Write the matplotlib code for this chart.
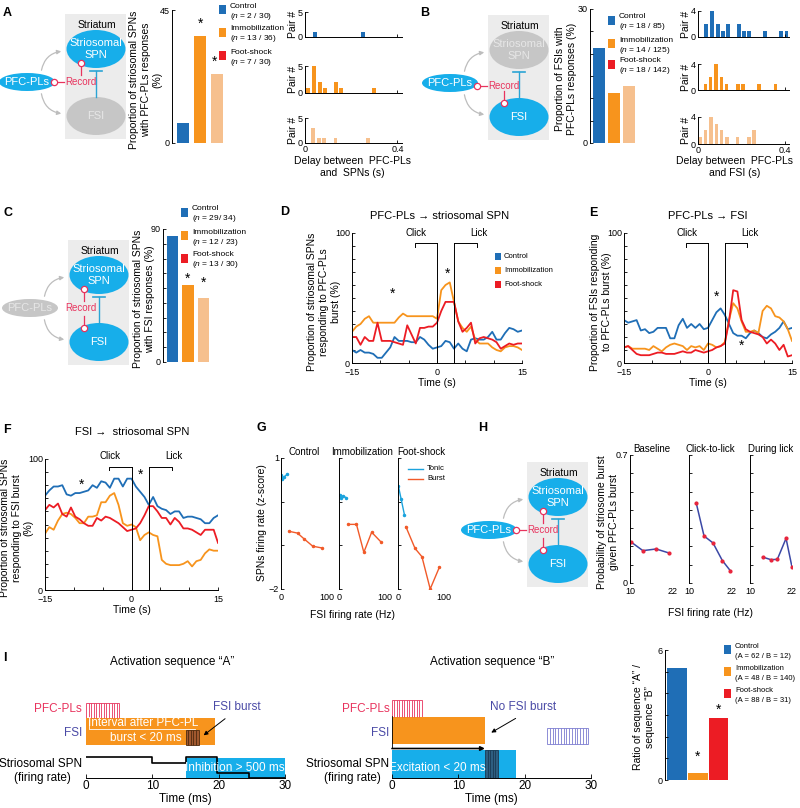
#!/usr/bin/env python3
"""Striosome / FSI / PFC-PL stress figure, panels A-I, redrawn with matplotlib."""
import numpy as np
import matplotlib
matplotlib.use("Agg")
import matplotlib.pyplot as plt
from matplotlib.patches import Ellipse, Rectangle, FancyArrowPatch

plt.rcParams['font.family'] = ['Liberation Sans', 'DejaVu Sans']
plt.rcParams['mathtext.fontset'] = 'custom'
plt.rcParams['mathtext.rm'] = 'Liberation Sans'
plt.rcParams['mathtext.it'] = 'Liberation Sans:italic'
plt.rcParams['axes.linewidth'] = 0.7
plt.rcParams['axes.facecolor'] = 'none'

# ───────────── colours ─────────────
BLUE, ORANGE, RED, PEACH = '#1F6EB6', '#F7941D', '#EC1C24', '#F6C08E'
CYAN, GREYC, BOX, PINK, VIOLET = '#17AEEA', '#C6C6C6', '#ECECEC', '#E8335D', '#4A4AA6'
TLINE = '#2BA4D4'
TONIC, BURST, HLINE, HDOT = '#1BA3DD', '#F15A29', '#3B48A6', '#E8243C'

# ───────────── data ─────────────
groups = ['Control', 'Immobilization', 'Foot-shock']
a_resp, a_total = [2, 13, 7], [30, 36, 30]
b_resp, b_total = [18, 14, 18], [85, 125, 142]
c_resp, c_total = [29, 12, 13], [34, 23, 30]
i_seq_a, i_seq_b = [62, 48, 88], [12, 140, 31]

# delay histograms (bin centre in s, pair count)
a_ctl_t, a_ctl_n = [0.045, 0.25], [1, 1]
a_imm_t = [0.013, 0.038, 0.063, 0.086, 0.133, 0.156, 0.299]
a_imm_n = [1, 5, 2, 1, 2, 1, 1]
a_fs_t, a_fs_n = [0.036, 0.060, 0.081, 0.132, 0.272], [3, 1, 1, 1, 1]
b_ctl_t = [0.038, 0.065, 0.091, 0.114, 0.138, 0.188, 0.212, 0.235, 0.309, 0.383, 0.408]
b_ctl_n = [2, 4, 2, 1, 2, 2, 1, 1, 1, 1, 1]
b_imm_t = [0.034, 0.058, 0.083, 0.108, 0.132, 0.185, 0.209, 0.283, 0.357]
b_imm_n = [1, 2, 4, 2, 1, 1, 1, 1, 1]
b_fs_t = [0.011, 0.035, 0.060, 0.085, 0.109, 0.134, 0.183, 0.234, 0.258]
b_fs_n = [1, 2, 4, 3, 2, 1, 1, 1, 2]

# peri-event curves, 0.75 s bins from -15 to 15 s
time_s = np.arange(-15, 15.01, 0.75)
d_ctl = [10, 8, 10, 8, 8, 7, 4, 4, 8, 12, 20, 17, 17, 17, 16, 16, 20, 18, 14, 11,
         12, 13, 17, 16, 11, 15, 11, 9, 18, 19, 18, 18, 20, 24, 18, 18, 23, 27, 26, 24, 25]
d_imm = [24, 28, 30, 34, 36, 31, 31, 31, 31, 31, 31, 35, 38, 36, 36, 36, 36, 36, 36, 36,
         34, 56, 60, 62, 47, 32, 27, 24, 28, 18, 15, 15, 15, 12, 10, 9, 12, 13, 13, 12, 10]
d_fs = [20, 20, 14, 20, 17, 17, 31, 17, 17, 17, 16, 15, 14, 29, 22, 15, 27, 27, 28, 28,
        31, 40, 47, 47, 47, 32, 24, 27, 31, 15, 19, 20, 19, 18, 16, 11, 13, 15, 14, 15, 15]
e_ctl = [33, 31, 32, 33, 25, 26, 23, 24, 27, 27, 27, 19, 19, 29, 34, 27, 30, 27, 30, 26,
         27, 33, 39, 42, 37, 30, 23, 21, 21, 19, 23, 25, 23, 20, 19, 22, 24, 27, 32, 26, 27]
e_imm = [12, 13, 11, 11, 11, 11, 10, 13, 11, 9, 12, 14, 15, 14, 13, 10, 13, 12, 13, 10,
         15, 14, 12, 13, 16, 33, 46, 42, 32, 24, 24, 25, 23, 40, 44, 42, 36, 35, 32, 26, 17]
e_fs = [12, 13, 10, 7, 6, 6, 6, 7, 8, 8, 7, 7, 7, 8, 9, 8, 8, 10, 9, 8,
        9, 10, 12, 13, 15, 32, 56, 55, 33, 26, 24, 23, 22, 20, 15, 18, 15, 10, 14, 5, 6]
f_ctl = [72, 76, 79, 79, 80, 73, 72, 74, 74, 75, 76, 80, 78, 83, 82, 78, 85, 85, 79, 85,
         85, 79, 75, 71, 65, 71, 64, 62, 61, 58, 60, 60, 55, 56, 56, 55, 54, 51, 51, 55, 57]
f_imm = [43, 48, 46, 53, 58, 59, 58, 55, 51, 51, 56, 56, 57, 67, 67, 72, 74, 65, 51, 49,
         50, 48, 38, 42, 44, 42, 41, 23, 20, 19, 19, 19, 20, 22, 18, 22, 23, 28, 31, 30, 30]
f_fs = [61, 65, 63, 66, 58, 56, 63, 56, 54, 51, 49, 49, 55, 53, 56, 55, 53, 51, 48, 45,
        46, 47, 51, 57, 64, 64, 60, 55, 55, 50, 55, 52, 47, 47, 46, 44, 42, 46, 46, 46, 36]

# G: SPN z-score vs FSI rate
g_tonic_x = [[1, 3, 7, 14], [1.5, 3.6, 8.8, 16], [1, 7, 14]]
g_tonic_y = [[0.61, 0.53, 0.57, 0.63], [0.15, 0.09, 0.13, 0.09], [0.35, 0.05, -0.30]]
g_burst_x = [[18, 36, 51, 69, 89], [20, 38, 54, 71, 91], [17, 37, 52, 70, 90]]
g_burst_y = [[-0.68, -0.72, -0.86, -1.02, -1.06], [-0.52, -0.52, -1.16, -0.70, -0.92],
             [-0.57, -1.07, -1.26, -2.0, -1.5]]

# H: P(striosome burst | PFC-PL burst) vs FSI rate
h_titles = ['Baseline', 'Click-to-lick', 'During lick']
h_x = [[10.3, 13.6, 17.3, 20.9], [12.0, 14.2, 16.7, 19.3, 21.5], [13.6, 15.9, 17.8, 20.3, 22.0]]
h_y = [[0.224, 0.177, 0.186, 0.164], [0.439, 0.257, 0.219, 0.123, 0.068],
       [0.142, 0.128, 0.129, 0.244, 0.087]]

# ───────────── figure / helpers ─────────────
fig = plt.figure(figsize=(8, 8.08), dpi=100)


def pax(x0, y0, x1, y1):
    """axes from pixel box (top-left origin)"""
    return fig.add_axes([x0 / 800, 1 - y1 / 808, (x1 - x0) / 800, (y1 - y0) / 808])


ov = pax(0, 0, 800, 808)
ov.set_xlim(0, 800); ov.set_ylim(808, 0); ov.axis('off')


def T(x, y, s, **kw):
    kw.setdefault('ha', 'center'); kw.setdefault('va', 'center')
    kw.setdefault('fontsize', 7.5)
    return ov.text(x, y, s, **kw)


def style(ax, left=True, bottom=False, size=6.5):
    for s in ('top', 'right'):
        ax.spines[s].set_visible(False)
    ax.spines['left'].set_visible(left)
    ax.spines['bottom'].set_visible(bottom)
    ax.tick_params(direction='in', length=2.5, width=0.6, labelsize=size, pad=1.5)


def ends(ticks, fmt=lambda v: f'{v:g}'.replace('-', '\u2212')):
    return [fmt(t) if i in (0, len(ticks) - 1) else '' for i, t in enumerate(ticks)]


def legend_block(xs, ys, labels, counts, size=6, dy=10):
    for y, c, lab, cnt in zip(ys, [BLUE, ORANGE, RED], labels, counts):
        ov.add_patch(Rectangle((xs, y - 4), 7, 9, fc=c, ec='none'))
        T(xs + 11, y - 3, lab, ha='left', fontsize=size)
        T(xs + 11, y - 3 + dy, cnt, ha='left', fontsize=size)


def circuit(x0, y0, spn_on, fsi_on, pfc_on, rec):
    ov.add_patch(Rectangle((x0, y0), 61, 125, fc=BOX, ec='none'))
    T(x0 + 32, y0 + 11, 'Striatum', fontsize=7.5)
    for cy, on, txt in [(y0 + 35, spn_on, 'Striosomal\nSPN'), (y0 + 102, fsi_on, 'FSI')]:
        ov.add_patch(Ellipse((x0 + 31, cy), 59, 38, fc=CYAN if on else GREYC, ec='none'))
        T(x0 + 31, cy, txt, color='white' if on else '#E6E6E6', fontsize=8, linespacing=1.15)
    ov.add_patch(Ellipse((x0 - 38, y0 + 68), 56, 18, fc=CYAN if pfc_on else GREYC, ec='none'))
    T(x0 - 38, y0 + 68, 'PFC-PLs', color='white' if pfc_on else '#E6E6E6', fontsize=8)
    for a, b, r in [((x0 - 24, y0 + 59), (x0 - 1, y0 + 37), -0.4),
                    ((x0 - 24, y0 + 77), (x0 - 1, y0 + 100), 0.4)]:
        ov.add_patch(FancyArrowPatch(a, b, connectionstyle=f'arc3,rad={r}', arrowstyle='-|>',
                                     mutation_scale=6, color='#BDBDBD', lw=0.9))
    ov.plot([x0 + 31, x0 + 31], [y0 + 57, y0 + 83], color=TLINE, lw=1)
    ov.plot([x0 + 25, x0 + 37], [y0 + 57, y0 + 57], color=TLINE, lw=1.2)
    dot = dict(marker='o', ms=4.5, mfc='white', mec=PINK, mew=0.9, ls='none', zorder=5)
    if rec in ('spn', 'fsi', 'all'):
        py = y0 + (71 if rec == 'fsi' else 68)
        ov.plot([x0 - 10, x0 - 1], [py, py], color=PINK, lw=0.9)
        ov.plot([x0 - 11], [py], **dot)
        T(x0, py, 'Record', ha='left', color=PINK, fontsize=7)
    else:
        T(x0 + 13, y0 + 68, 'Record', color=PINK, fontsize=7)
    if rec in ('spn', 'pair', 'all'):
        ov.plot([x0 + 16, x0 + 16], [y0 + 50, y0 + 61], color=PINK, lw=0.9)
        ov.plot([x0 + 16], [y0 + 49], **dot)
    if rec in ('fsi', 'pair', 'all'):
        ov.plot([x0 + 16, x0 + 16], [y0 + 76, y0 + 87], color=PINK, lw=0.9)
        ov.plot([x0 + 16], [y0 + 88], **dot)


def bar_panel(box, vals, colors, ymax, step, xlim, width, stars):
    ax = pax(*box)
    ax.bar([1, 2, 3], vals, width=width, color=colors)
    ax.set_xlim(*xlim); ax.set_ylim(0, ymax)
    ticks = np.arange(0, ymax + 0.01, step)
    ax.set_yticks(ticks); ax.set_yticklabels(ends(ticks)); ax.set_xticks([])
    style(ax)
    for x, y in stars:
        ax.text(x, y, '*', ha='center', va='center', fontsize=10)
    return ax


def hist_panel(box, t, n, color, ymax, last):
    ax = pax(*box)
    ax.bar(t, n, width=0.017, color=color)
    ax.set_xlim(0, 0.42); ax.set_ylim(0, ymax)
    ax.set_yticks([0, ymax]); ax.set_xticks([0, 0.4])
    ax.set_xticklabels(['0', '0.4'] if last else ['', ''])
    style(ax, bottom=True)
    ax.set_ylabel('Pair #', fontsize=7.5, labelpad=0)


def time_panel(box, series, stars, by):
    ax = pax(*box)
    for vals, c in zip(series, [BLUE, ORANGE, RED]):
        ax.plot(time_s, vals, color=c, lw=1.3)
    ax.set_xlim(-15, 15); ax.set_ylim(0, 100)
    xt = np.arange(-15, 16, 5); yt = np.arange(0, 101, 10)
    ax.set_xticks(xt); ax.set_xticklabels(['\u221215', '', '', '0', '', '', '15'])
    ax.set_yticks(yt); ax.set_yticklabels(ends(yt))
    style(ax, bottom=True)
    ax.tick_params(axis='x', pad=3.5)
    k = dict(color='k', lw=0.7, clip_on=False)
    ax.plot([0, 0], [0, by], **k); ax.plot([3, 3], [0, by], **k)
    ax.plot([-3.9, -3.9, 0], [by - 2.5, by, by], **k)
    ax.plot([3, 7, 7], [by, by, by - 2.5], **k)
    ax.text(-3.7, by + 8, 'Click', ha='center', va='center', fontsize=7)
    ax.text(7.4, by + 8, 'Lick', ha='center', va='center', fontsize=7)
    for x, y in stars:
        ax.text(x, y, '*', ha='center', va='center', fontsize=10)
    ax.set_xlabel('Time (s)', fontsize=7.5, labelpad=1)
    return ax


# ───────────── A ─────────────
T(7, 13, 'A', fontsize=9, fontweight='bold')
circuit(65, 14, True, False, True, 'spn')
bar_panel((172, 10, 230, 143), [100 * r / t for r, t in zip(a_resp, a_total)],
          [BLUE, ORANGE, PEACH], 45, 45, (0.35, 3.76), 0.72, [(2, 40.5), (2.85, 27.5)])
T(146, 80, 'Proportion of striosomal SPNs\nwith PFC-PLs responses\n(%)', rotation=90)
legend_block(219, [9, 32, 55], groups,
             [f'($\\it{{n}}$ = {r} / {t})' for r, t in zip(a_resp, a_total)])
hist_panel((305, 12, 402, 37), a_ctl_t, a_ctl_n, BLUE, 5, False)
hist_panel((305, 66, 402, 93), a_imm_t, a_imm_n, ORANGE, 5, False)
hist_panel((305, 118, 402, 143), a_fs_t, a_fs_n, PEACH, 5, True)
T(352, 167, 'Delay between  PFC-PLs\nand  SPNs (s)')

# ───────────── B ─────────────
T(425, 13, 'B', fontsize=9, fontweight='bold')
circuit(488, 15, False, True, True, 'fsi')
bar_panel((590, 9, 640, 143), [100 * r / t for r, t in zip(b_resp, b_total)],
          [BLUE, ORANGE, PEACH], 30, 5, (0.4, 3.73), 0.8, [])
T(566, 79, 'Proportion of FSIs with\nPFC-PLs responses (%)', rotation=90)
legend_block(608, [20, 43, 64], groups,
             [f'($\\it{{n}}$ = {r} / {t})' for r, t in zip(b_resp, b_total)])
hist_panel((698, 11, 789, 37), b_ctl_t, b_ctl_n, BLUE, 4, False)
hist_panel((698, 64, 789, 90), b_imm_t, b_imm_n, ORANGE, 4, False)
hist_panel((698, 117, 789, 144), b_fs_t, b_fs_n, PEACH, 4, True)
T(735, 167, 'Delay between  PFC-PLs\nand FSI (s)')

# ───────────── C ─────────────
T(8, 213, 'C', fontsize=9, fontweight='bold')
circuit(68, 240, True, True, False, 'pair')
bar_panel((163, 229, 215, 362), [100 * r / t for r, t in zip(c_resp, c_total)],
          [BLUE, ORANGE, PEACH], 90, 10, (0.39, 3.74), 0.71, [(2, 56), (3, 53.5)])
T(144, 299, 'Proportion of striosomal SPNs\nwith FSI responses (%)', rotation=90)
legend_block(181, [212, 235, 258], groups, ['($\\it{n}$ = 29/ 34)', '($\\it{n}$ = 12 / 23)',
                                            '($\\it{n}$ = 13 / 30)'])

# ───────────── D / E / F ─────────────
T(285, 212, 'D', fontsize=9, fontweight='bold')
T(440, 216, 'PFC-PLs \u2192 striosomal SPN', fontsize=8)
time_panel((352, 233, 522, 363), [d_ctl, d_imm, d_fs], [(-7.8, 53), (1.9, 69)], 92)
T(324, 302, 'Proportion of striosomal SPNs\nresponding to PFC-PLs\nburst (%)', rotation=90)
for y, c, lab in zip([256, 270, 284], [BLUE, ORANGE, RED], groups):
    ov.add_patch(Rectangle((495, y - 3.5), 6, 7, fc=c, ec='none'))
    T(504, y, lab, ha='left', fontsize=5.5)

T(593, 213, 'E', fontsize=9, fontweight='bold')
T(708, 216, 'PFC-PLs \u2192 FSI', fontsize=8)
time_panel((624, 233, 792, 363), [e_ctl, e_imm, e_fs], [(1.6, 51), (5.9, 13)], 92)
T(601, 302, 'Proportion of FSIs responding\nto PFC-PLs burst (%)', rotation=90)

T(7, 430, 'F', fontsize=9, fontweight='bold')
T(132, 432, 'FSI \u2192  striosomal SPN', fontsize=8)
time_panel((45, 459, 218, 590), [f_ctl, f_imm, f_fs], [(-8.6, 80), (1.6, 88)], 94)
T(17, 528, 'Proportion of striosomal SPNs\nresponding to FSI burst\n(%)', rotation=90)

# ───────────── G ─────────────
T(261, 428, 'G', fontsize=9, fontweight='bold')
for i, x0 in enumerate([281, 339, 398]):
    ax = pax(x0, 458, x0 + 46, 589)
    ax.plot(g_tonic_x[i], g_tonic_y[i], color=TONIC, lw=1, marker='.', ms=3)
    ax.plot(g_burst_x[i], g_burst_y[i], color=BURST, lw=1, marker='.', ms=3)
    ax.set_xlim(0, 100); ax.set_ylim(-2, 1)
    ax.set_xticks([0, 100]); ax.set_yticks([-2, -1, 0, 1])
    ax.set_yticklabels(['\u22122', '', '', '1'] if i == 0 else [])
    style(ax)
    ax.tick_params(axis='x', length=0, pad=3)
    ax.set_title(groups[i], fontsize=7, pad=2)
ov.plot([408, 423], [469, 469], color=TONIC, lw=1)
ov.plot([408, 423], [479, 479], color=BURST, lw=1)
T(427, 469, 'Tonic', ha='left', fontsize=5.5)
T(427, 479, 'Burst', ha='left', fontsize=5.5)
T(262, 523, 'SPNs firing rate (z-score)', rotation=90)
T(353, 615, 'FSI firing rate (Hz)')

# ───────────── H ─────────────
T(483, 428, 'H', fontsize=9, fontweight='bold')
circuit(527, 462, True, True, True, 'all')
for i, (x0, x1) in enumerate([(630, 673), (689, 732), (750, 792)]):
    ax = pax(x0, 455, x1, 583)
    ax.plot(h_x[i], h_y[i], color=HLINE, lw=1.1, marker='.', ms=4, mfc=HDOT, mec=HDOT)
    ax.set_xlim(10, 22); ax.set_ylim(0, 0.7)
    yt = np.arange(0, 0.71, 0.1)
    ax.set_yticks(yt); ax.set_yticklabels(['0', '', '', '', '', '', '', '0.7'] if i == 0 else [])
    ax.set_xticks([10, 22])
    style(ax, size=6.5)
    ax.tick_params(axis='x', length=0, pad=3)
    ax.set_title(h_titles[i], fontsize=7, pad=2)
T(608, 522, 'Probability of striosome burst\ngiven PFC-PLs burst', rotation=90)
T(710, 613, 'FSI firing rate (Hz)')

# ───────────── I ─────────────
T(5, 658, 'I', fontsize=9, fontweight='bold')
T(172, 662, 'Activation sequence \u201cA\u201d', fontsize=8.5)
T(492, 662, 'Activation sequence \u201cB\u201d', fontsize=8.5)


def stripes(ax, x0, x1, y0, y1, n, color):
    ax.vlines(np.linspace(x0, x1, n + 2)[1:-1], y0, y1, color=color, lw=0.6)


def seq_axes(box):
    ax = pax(*box)
    ax.set_xlim(0, 30); ax.set_ylim(778, 695)
    ax.set_xticks([0, 10, 20, 30]); ax.set_yticks([])
    style(ax, left=False, bottom=True, size=8.5)
    ax.tick_params(axis='x', length=3)
    ax.set_xlabel('Time (ms)', fontsize=8.5, labelpad=1)
    return ax


def side_labels(ax, xr, xc):
    ax.text(xr, 709, 'PFC-PLs', ha='right', va='center', color=PINK, fontsize=8.5)
    ax.text(xr, 733, 'FSI', ha='right', va='center', color=VIOLET, fontsize=8.5)
    ax.text(xr, 764, 'Striosomal SPN', ha='right', va='center', fontsize=8.5)
    ax.text(xc, 778, '(firing rate)', ha='center', va='center', fontsize=8.5)


sa = seq_axes((86, 695, 285, 778))
sa.add_patch(Rectangle((0, 703), 5, 15, fc='white', ec=PINK, lw=0.6))
stripes(sa, 0, 5, 703, 718, 12, PINK)
sa.add_patch(Rectangle((0, 718), 19.5, 27, fc=ORANGE, ec='none'))
sa.plot([0.4, 0.4, 16.5], [720, 729, 729], color='white', lw=0.6)
sa.text(8.6, 723.5, 'Interval after PFC-PL', color='white', ha='center', va='center', fontsize=8.5)
sa.text(9.0, 738, 'burst < 20 ms', color='white', ha='center', va='center', fontsize=8.5)
sa.add_patch(Rectangle((15, 730), 2, 15, fc='#A0582E', ec='#4D2A10', lw=0.6))
stripes(sa, 15, 17, 730, 745, 4, '#4D2A10')
sa.add_patch(Rectangle((15, 758), 15, 20, fc=CYAN, ec='none'))
sa.plot([0, 10, 10, 15, 15, 19.7, 19.7, 24.5, 24.5, 30],
        [757, 757, 763, 763, 757, 757, 773, 773, 778, 778], color='k', lw=1.2)
sa.text(22.5, 768, 'Inhibition > 500 ms', color='white', ha='center', va='center', fontsize=8.5)
sa.text(22.8, 707, 'FSI burst', color=VIOLET, ha='center', va='center', fontsize=8.5)
sa.annotate('', xy=(17.4, 737), xytext=(21.3, 717),
            arrowprops=dict(arrowstyle='-|>', color='k', lw=0.7, mutation_scale=6))
side_labels(sa, -0.6, -6.5)

sb = seq_axes((392, 695, 591, 778))
sb.add_patch(Rectangle((0, 700), 4.5, 17, fc='white', ec=PINK, lw=0.6))
stripes(sb, 0, 4.5, 700, 717, 11, PINK)
sb.add_patch(Rectangle((0, 717), 14, 27, fc=ORANGE, ec='none'))
sb.add_patch(Rectangle((0, 750), 18.7, 28, fc=CYAN, ec='none'))
sb.add_patch(Rectangle((14, 750), 2, 28, fc='#2E5E80', ec='#1C3A52', lw=0.6))
stripes(sb, 14, 16, 750, 778, 4, '#1C3A52')
sb.add_patch(Rectangle((23.4, 728), 6.2, 16, fc='white', ec='#7B7BD0', lw=0.6))
stripes(sb, 23.4, 29.6, 728, 744, 14, '#7B7BD0')
sb.plot([0, 0], [717, 748.5], color='k', lw=1.2)
sb.annotate('', xy=(14, 748.5), xytext=(0, 748.5),
            arrowprops=dict(arrowstyle='-|>', color='k', lw=1.2, mutation_scale=6,
                            shrinkA=0, shrinkB=0))
sb.text(6.9, 768, 'Excitation < 20 ms', color='white', ha='center', va='center', fontsize=8.5)
sb.text(19.8, 707, 'No FSI burst', color=VIOLET, ha='center', va='center', fontsize=8.5)
sb.annotate('', xy=(14.6, 734), xytext=(19.0, 717),
            arrowprops=dict(arrowstyle='-|>', color='k', lw=0.7, mutation_scale=6))
side_labels(sb, -0.4, -6.0)

bar_panel((665, 650, 730, 780), [a / b for a, b in zip(i_seq_a, i_seq_b)],
          [BLUE, ORANGE, RED], 6, 1, (0.42, 3.55), 0.95, [(2, 1.06), (3, 3.23)])
T(644, 717, 'Ratio of sequence \u201cA\u201d /\nsequence \u201cB\u201d', rotation=90)
legend_block(724, [649, 671, 693], groups,
             [f'(A = {a} / B = {b})' for a, b in zip(i_seq_a, i_seq_b)], size=5.5)

fig.savefig('out.png', dpi=100)
